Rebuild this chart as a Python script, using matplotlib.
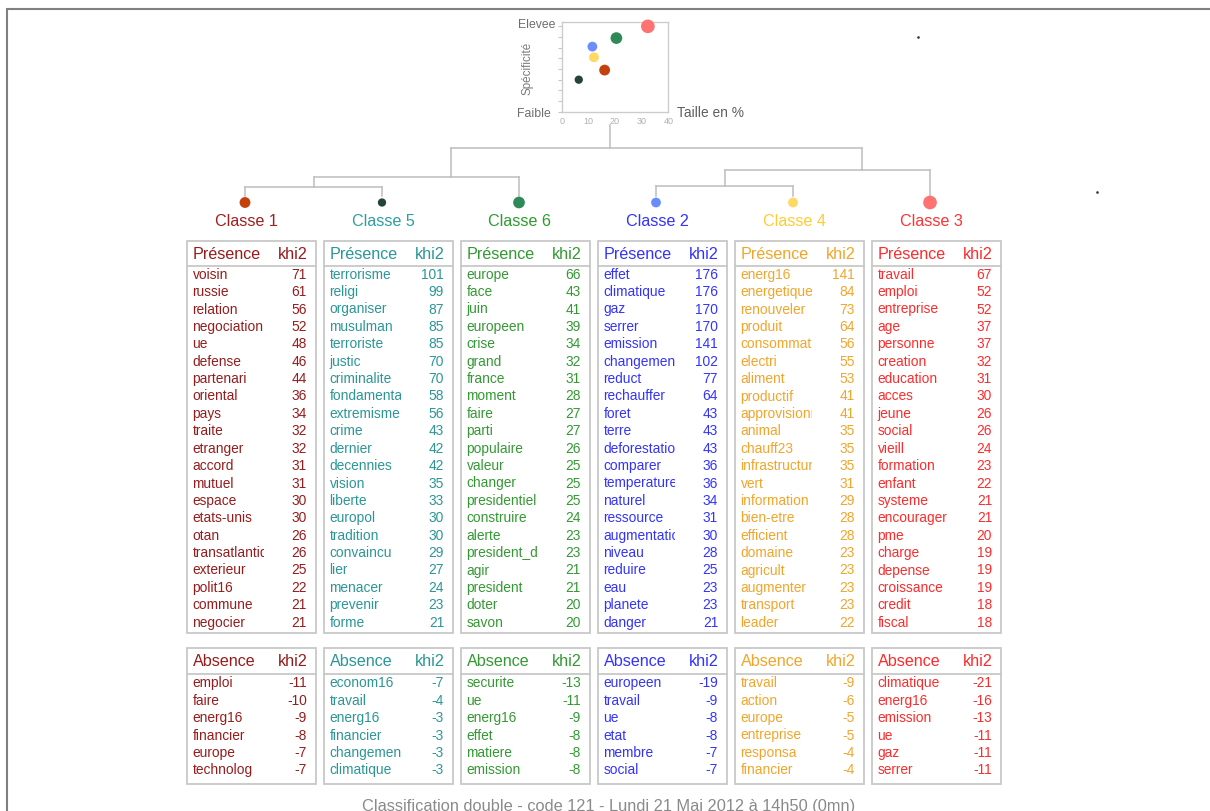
import matplotlib
matplotlib.use("Agg")
import matplotlib.pyplot as plt
from matplotlib.patches import Rectangle
from matplotlib.transforms import Bbox, TransformedBbox

plt.rcParams['font.family'] = ['Liberation Sans', 'DejaVu Sans']

# ---------------- data ----------------
classes = ["Classe 1", "Classe 5", "Classe 6", "Classe 2", "Classe 4", "Classe 3"]
taille = [16.1, 6.4, 20.5, 11.5, 12.1, 32.3]          # Taille en %
specificite = [3.9, 3.0, 6.9, 6.1, 5.1, 8.0]          # Specificite (rank scale)

# dendrogram merges: (left child, right child, merge height)
dendro_merges = [
    ("Classe 1", "Classe 5", 13),
    ("Classe 2", "Classe 4", 14),
    ("Classe 1+5", "Classe 6", 23),
    ("Classe 2+4", "Classe 3", 30),
    ("Classe 1+5+6", "Classe 2+4+3", 52),
]

pres_c1_words = ["voisin", "russie", "relation", "negociation", "ue", "defense", "partenari",
                 "oriental", "pays", "traite", "etranger", "accord", "mutuel", "espace",
                 "etats-unis", "otan", "transatlantique", "exterieur", "polit16", "commune", "negocier"]
pres_c1_khi2 = [71, 61, 56, 52, 48, 46, 44, 36, 34, 32, 32, 31, 31, 30, 30, 26, 26, 25, 22, 21, 21]

pres_c5_words = ["terrorisme", "religi", "organiser", "musulman", "terroriste", "justic",
                 "criminalite", "fondamentalisme", "extremisme", "crime", "dernier", "decennies",
                 "vision", "liberte", "europol", "tradition", "convaincu", "lier", "menacer",
                 "prevenir", "forme"]
pres_c5_khi2 = [101, 99, 87, 85, 85, 70, 70, 58, 56, 43, 42, 42, 35, 33, 30, 30, 29, 27, 24, 23, 21]

pres_c6_words = ["europe", "face", "juin", "europeen", "crise", "grand", "france", "moment",
                 "faire", "parti", "populaire", "valeur", "changer", "presidentiel", "construire",
                 "alerte", "president_de_la_republique", "agir", "president", "doter", "savon"]
pres_c6_khi2 = [66, 43, 41, 39, 34, 32, 31, 28, 27, 27, 26, 25, 25, 25, 24, 23, 23, 21, 21, 20, 20]

pres_c2_words = ["effet", "climatique", "gaz", "serrer", "emission", "changement", "reduct",
                 "rechauffer", "foret", "terre", "deforestation", "comparer", "temperature",
                 "naturel", "ressource", "augmentation", "niveau", "reduire", "eau", "planete", "danger"]
pres_c2_khi2 = [176, 176, 170, 170, 141, 102, 77, 64, 43, 43, 43, 36, 36, 34, 31, 30, 28, 25, 23, 23, 21]

pres_c4_words = ["energ16", "energetique", "renouveler", "produit", "consommation", "electri",
                 "aliment", "productif", "approvisionnement", "animal", "chauff23", "infrastructure",
                 "vert", "information", "bien-etre", "efficient", "domaine", "agricult", "augmenter",
                 "transport", "leader"]
pres_c4_khi2 = [141, 84, 73, 64, 56, 55, 53, 41, 41, 35, 35, 35, 31, 29, 28, 28, 23, 23, 23, 23, 22]

pres_c3_words = ["travail", "emploi", "entreprise", "age", "personne", "creation", "education",
                 "acces", "jeune", "social", "vieill", "formation", "enfant", "systeme",
                 "encourager", "pme", "charge", "depense", "croissance", "credit", "fiscal"]
pres_c3_khi2 = [67, 52, 52, 37, 37, 32, 31, 30, 26, 26, 24, 23, 22, 21, 21, 20, 19, 19, 19, 18, 18]

abs_c1_words = ["emploi", "faire", "energ16", "financier", "europe", "technolog"]
abs_c1_khi2 = [-11, -10, -9, -8, -7, -7]
abs_c5_words = ["econom16", "travail", "energ16", "financier", "changement", "climatique"]
abs_c5_khi2 = [-7, -4, -3, -3, -3, -3]
abs_c6_words = ["securite", "ue", "energ16", "effet", "matiere", "emission"]
abs_c6_khi2 = [-13, -11, -9, -8, -8, -8]
abs_c2_words = ["europeen", "travail", "ue", "etat", "membre", "social"]
abs_c2_khi2 = [-19, -9, -8, -8, -7, -7]
abs_c4_words = ["travail", "action", "europe", "entreprise", "responsa", "financier"]
abs_c4_khi2 = [-9, -6, -5, -5, -4, -4]
abs_c3_words = ["climatique", "energ16", "emission", "ue", "gaz", "serrer"]
abs_c3_khi2 = [-21, -16, -13, -11, -11, -11]

footer = "Classification double - code 121 - Lundi 21 Mai 2012 à 14h50 (0mn)"

# ---------------- styles ----------------
marker_colors = ["#C4410C", "#24443A", "#2E8B57", "#6A8CFF", "#FFD966", "#FF7272"]
title_colors = ["#9E2020", "#2E9E9E", "#2E9B2E", "#3333FF", "#FFCC33", "#FF3333"]
table_colors = ["#961C1C", "#2B9696", "#339933", "#3333FF", "#F2A52A", "#FF2B2B"]

pres_words = [pres_c1_words, pres_c5_words, pres_c6_words, pres_c2_words, pres_c4_words, pres_c3_words]
pres_vals = [pres_c1_khi2, pres_c5_khi2, pres_c6_khi2, pres_c2_khi2, pres_c4_khi2, pres_c3_khi2]
abs_words = [abs_c1_words, abs_c5_words, abs_c6_words, abs_c2_words, abs_c4_words, abs_c3_words]
abs_vals = [abs_c1_khi2, abs_c5_khi2, abs_c6_khi2, abs_c2_khi2, abs_c4_khi2, abs_c3_khi2]

W, H = 1210, 811
fig = plt.figure(figsize=(W / 100, H / 100), dpi=100)
ax = fig.add_axes([0, 0, 1, 1])
ax.set_xlim(0, W)
ax.set_ylim(H, 0)
ax.axis("off")

def msize(t):
    d = 4 + 1.7 * t ** 0.5          # diameter px
    return (d * 0.72) ** 2

# page frame
ax.plot([6, W], [9, 9], color="#808080", lw=1.5, solid_capstyle="butt")
ax.plot([6.5, 6.5], [9, H], color="#808080", lw=1.5, solid_capstyle="butt")
ax.plot([918, 1097], [37, 192], ls="none", marker="s", ms=0.8, color="#333333")

# ---------------- dendrogram ----------------
box_left0, pitch, box_w = 187, 137, 129
leaf_x = {c: box_left0 + i * pitch + 58 for i, c in enumerate(classes)}
base_y = 200
leaf_top = 196
line_c = "#BDBDBD"
nodes = {c: {"x": leaf_x[c], "y": leaf_top, "leaves": [c]} for c in classes}
root_x = 609.5
for k, (a, b, h) in enumerate(dendro_merges):
    na, nb = nodes[a], nodes[b]
    y = base_y - h
    if k == len(dendro_merges) - 1:
        x = root_x
    else:
        x = (leaf_x[na["leaves"][-1]] + leaf_x[nb["leaves"][0]]) / 2
    ax.plot([na["x"], nb["x"]], [y, y], color=line_c, lw=1.1)
    ax.plot([na["x"], na["x"]], [y, na["y"]], color=line_c, lw=1.1)
    ax.plot([nb["x"], nb["x"]], [y, nb["y"]], color=line_c, lw=1.1)
    node = {"x": x, "y": y, "leaves": na["leaves"] + nb["leaves"]}
    merged = "+".join(n.replace("Classe ", "") for n in [a, b])
    nodes["Classe " + merged] = node
    nodes["root"] = node
root = nodes["root"]
ax.plot([root["x"], root["x"]], [root["y"], 125], color=line_c, lw=1.1)

ax.scatter([leaf_x[c] for c in classes], [202.5] * 6, s=[msize(t) for t in taille],
           c=marker_colors, zorder=3, linewidths=0)
for i, c in enumerate(classes):
    ax.text(leaf_x[c] + 1, 226.5, c, ha="center", va="baseline", fontsize=11.6,
            color=title_colors[i])

# ---------------- tables ----------------
edge_c = "#C8C8C8"
row_h = 17.4

def draw_table(left, top, bottom, sep_y, head_base, row0, title, words, vals, color):
    ax.add_patch(Rectangle((left, top), box_w, bottom - top, fill=False, ec=edge_c, lw=1.3))
    ax.plot([left, left + box_w], [sep_y, sep_y], color=edge_c, lw=1.3)
    ax.text(left + 5.5, head_base, title, ha="left", va="baseline", fontsize=11.6, color=color)
    ax.text(left + 121, head_base, "khi2", ha="right", va="baseline", fontsize=11.6, color=color)
    for j, (w, v) in enumerate(zip(words, vals)):
        y = row0 + j * row_h
        t = ax.text(left + 5.5, y + 4, w, ha="left", va="baseline", fontsize=9.9,
                    color=color, clip_on=True)
        t.set_clip_box(TransformedBbox(Bbox([[left + 1, y - 12], [left + 76.5, y + 12]]),
                                       ax.transData))
        ax.text(left + 120, y + 4, str(v), ha="right", va="baseline", fontsize=9.9, color=color)

for i in range(6):
    left = box_left0 + i * pitch
    draw_table(left, 241, 633, 266, 259, 274.7, "Présence", pres_words[i], pres_vals[i],
               table_colors[i])
    draw_table(left, 647.5, 784, 673.5, 666.5, 683.3, "Absence", abs_words[i], abs_vals[i],
               table_colors[i])

ax.text(608.5, 810.5, footer, ha="center", va="baseline", fontsize=11.8, color="#8A8A8A")

# ---------------- scatter inset ----------------
sx0, sx1, sy0, sy1 = 561.7, 668.4, 21.7, 111.7
sax = fig.add_axes([sx0 / W, 1 - sy1 / H, (sx1 - sx0) / W, (sy1 - sy0) / H])
sax.scatter(taille, specificite, s=[msize(t) for t in taille], c=marker_colors,
            linewidths=0, zorder=3, clip_on=False)
sax.set_xlim(0, 40)
sax.set_ylim(0, 90 / 10.67)
sax.set_xticks([0, 10, 20, 30, 40])
sax.set_yticks(range(9))
sax.set_yticklabels([])
sax.tick_params(axis="x", length=0, labelsize=6.5, labelcolor="#B0B0B0", pad=4)
sax.tick_params(axis="y", length=3, color="#C8C8C8", width=0.8)
for sp in sax.spines.values():
    sp.set_color("#CCCCCC")
    sp.set_linewidth(1.0)
ax.text(sx0 - 6, sy0 + 3, "Elevee", ha="right", va="center", fontsize=8.8, color="#6E6E6E")
ax.text(sx0 - 11, sy1 + 2, "Faible", ha="right", va="center", fontsize=8.8, color="#6E6E6E")
ax.text(528, 68, "Spécificité", ha="center", va="center", rotation=90, fontsize=8.4,
        color="#7A7A7A")
ax.text(677, 113, "Taille en %", ha="left", va="center", fontsize=9.9, color="#5E5E5E")

fig.savefig("out.png", dpi=100)
